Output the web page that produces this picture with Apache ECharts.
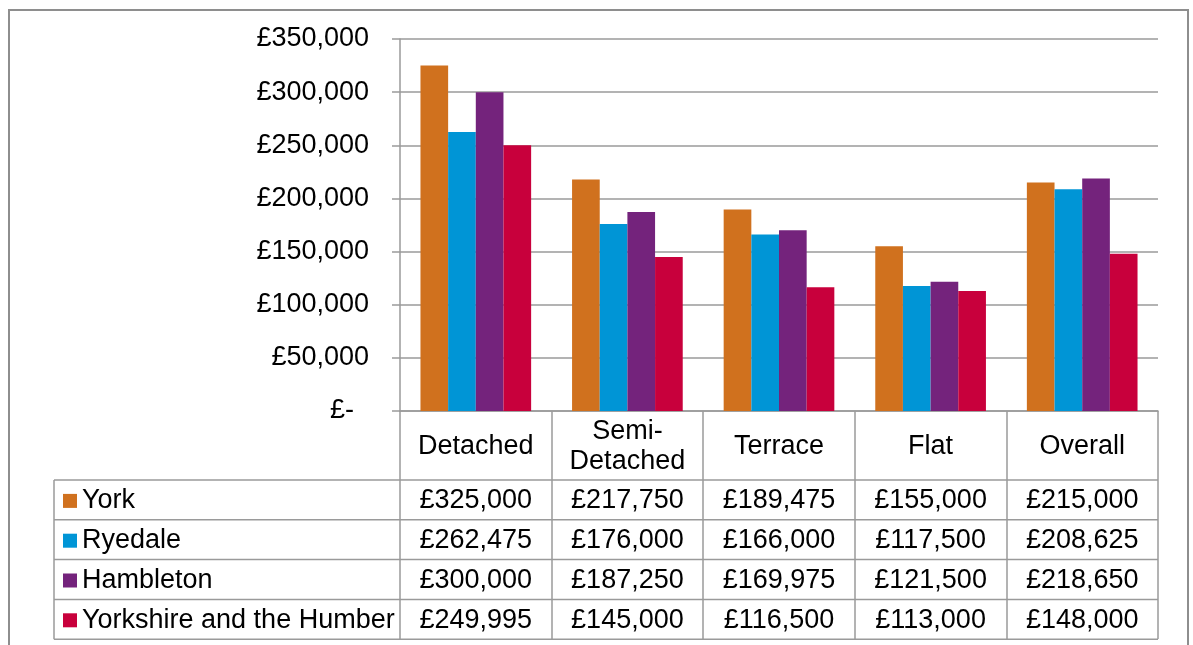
<!DOCTYPE html>
<html>
<head>
<meta charset="utf-8">
<script src="https://cdn.jsdelivr.net/npm/echarts@6/dist/echarts.min.js"></script>
<style>
  html, body { margin: 0; padding: 0; background: #fff; }
  #main { width: 1193px; height: 645px; }
</style>
</head>
<body>
<div id="main"></div>
<script>
var categories = ['Detached', 'Semi-\nDetached', 'Terrace', 'Flat', 'Overall'];
var seriesNames = ['York', 'Ryedale', 'Hambleton', 'Yorkshire and the Humber'];
var york = [325000, 217750, 189475, 155000, 215000];
var ryedale = [262475, 176000, 166000, 117500, 208625];
var hambleton = [300000, 187250, 169975, 121500, 218650];
var yorkshire = [249995, 145000, 116500, 113000, 148000];
var colors = ['#d0711e', '#0095d6', '#74237c', '#c8003c'];
var yTicks = [0, 50000, 100000, 150000, 200000, 250000, 300000, 350000];

var FONT = "'Liberation Sans', Arial, sans-serif";
var FS = 27;
var LINE = '#9a9a9a';
var allData = [york, ryedale, hambleton, yorkshire];

function money(v) {
  if (v === 0) return '£-  ';
  return '£' + v.toLocaleString('en-GB');
}

var chart = echarts.init(document.getElementById('main'));

var option = {
  animation: false,
  grid: { left: 400, right: 35, top: 39, bottom: 234, containLabel: false },
  xAxis: {
    type: 'category',
    data: categories,
    axisLine: { lineStyle: { color: LINE, width: 1.5 } },
    axisTick: { show: true, alignWithLabel: false, length: 228, lineStyle: { color: LINE, width: 1.5 } },
    axisLabel: {
      fontSize: FS, fontFamily: FONT, color: '#000', lineHeight: 30,
      margin: 36, verticalAlign: 'middle', interval: 0
    }
  },
  yAxis: {
    type: 'value',
    min: yTicks[0],
    max: yTicks[yTicks.length - 1],
    interval: 50000,
    axisLine: { show: true, lineStyle: { color: LINE, width: 1.5 } },
    axisTick: { show: true, length: 8, lineStyle: { color: LINE, width: 1.5 } },
    splitLine: { lineStyle: { color: LINE, width: 1.5 } },
    axisLabel: {
      fontSize: FS, fontFamily: FONT, color: '#000', margin: 31,
      formatter: money
    }
  },
  series: seriesNames.map(function (name, i) {
    return {
      name: name,
      type: 'bar',
      data: allData[i],
      barGap: '0%',
      barCategoryGap: '27%',
      itemStyle: { color: colors[i] }
    };
  })
};
chart.setOption(option);

// data table under the axis, placed from the chart's own scales
var c0 = chart.convertToPixel({ xAxisIndex: 0 }, 0);
var c1 = chart.convertToPixel({ xAxisIndex: 0 }, 1);
var band = c1 - c0;
var tableLeft = c0 - band / 2;
var tableRight = tableLeft + band * categories.length;
var y0 = chart.convertToPixel({ yAxisIndex: 0 }, 0);
var headerH = 69, rowH = 39.8, legendLeft = 54;

var g = [];
// outer chart border
g.push({ type: 'rect', shape: { x: 9, y: 10, width: 1179, height: 700 },
  style: { fill: null, stroke: '#8e8e8e', lineWidth: 2 }, silent: true });

for (var r = 0; r <= seriesNames.length; r++) {
  var yy = y0 + headerH + rowH * r;
  g.push({ type: 'line', shape: { x1: legendLeft, y1: yy, x2: tableRight, y2: yy },
    style: { stroke: LINE, lineWidth: 1.5 }, silent: true });
}
g.push({ type: 'line', shape: { x1: legendLeft, y1: y0 + headerH, x2: legendLeft, y2: y0 + headerH + rowH * seriesNames.length },
  style: { stroke: LINE, lineWidth: 1.5 }, silent: true });

seriesNames.forEach(function (name, i) {
  var cy = y0 + headerH + rowH * i + rowH / 2 + 1;
  g.push({ type: 'rect', shape: { x: 63, y: cy - 7, width: 14, height: 14 },
    style: { fill: colors[i] }, silent: true });
  g.push({ type: 'text', x: 82, y: cy,
    style: { text: name, font: FS + 'px ' + FONT, fill: '#000', textAlign: 'left', textVerticalAlign: 'middle' }, silent: true });
  allData[i].forEach(function (v, j) {
    var cx = chart.convertToPixel({ xAxisIndex: 0 }, j);
    g.push({ type: 'text', x: cx, y: cy,
      style: { text: money(v), font: FS + 'px ' + FONT, fill: '#000', textAlign: 'center', textVerticalAlign: 'middle' }, silent: true });
  });
});

chart.setOption({ graphic: g });
</script>
</body>
</html>
